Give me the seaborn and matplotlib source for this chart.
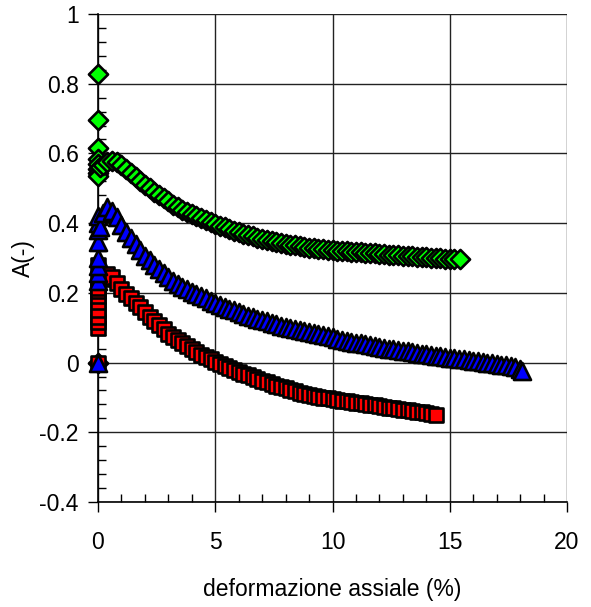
import matplotlib
matplotlib.use("Agg")
import matplotlib.pyplot as plt
from matplotlib.ticker import MultipleLocator
import seaborn as sns
import pandas as pd

# ---------------- data ----------------
green_x = [0, 0, 0, 0, 0, 0, 0, 0, 0, 0.1, 0.2,
           0.4, 0.6, 0.8, 1.0, 1.2, 1.4, 1.6, 1.8, 2.0, 2.2, 2.4, 2.6, 2.8, 3.0,
           3.2, 3.4, 3.6, 3.8, 4.0, 4.2, 4.4, 4.6, 4.8, 5.0, 5.2, 5.4, 5.6, 5.8,
           6.0, 6.2, 6.4, 6.6, 6.8, 7.0, 7.2, 7.4, 7.6, 7.8, 8.0, 8.2, 8.4, 8.6,
           8.8, 9.0, 9.2, 9.4, 9.6, 9.8, 10.0, 10.2, 10.4, 10.6, 10.8, 11.0, 11.2,
           11.4, 11.6, 11.8, 12.0, 12.2, 12.4, 12.6, 12.8, 13.0, 13.2, 13.4, 13.6,
           13.8, 14.0, 14.2, 14.4, 14.6, 14.8, 15.0, 15.2, 15.45]
green_y = [0.0, 0.829, 0.697, 0.617, 0.585, 0.57, 0.555, 0.545, 0.535, 0.56, 0.566,
           0.575, 0.578, 0.575, 0.566, 0.556, 0.545, 0.533, 0.520, 0.510, 0.500,
           0.490, 0.481, 0.472, 0.463, 0.452, 0.446, 0.439, 0.433, 0.427, 0.421,
           0.415, 0.409, 0.403, 0.398, 0.393, 0.388, 0.383, 0.378, 0.374, 0.370,
           0.366, 0.362, 0.358, 0.355, 0.352, 0.349, 0.346, 0.343, 0.340, 0.338,
           0.336, 0.334, 0.332, 0.330, 0.328, 0.327, 0.325, 0.324, 0.322, 0.321,
           0.320, 0.319, 0.318, 0.317, 0.316, 0.315, 0.314, 0.313, 0.312, 0.311,
           0.310, 0.309, 0.308, 0.307, 0.306, 0.305, 0.304, 0.303, 0.302, 0.301,
           0.300, 0.299, 0.297, 0.297, 0.296, 0.296]

blue_x = [0, 0, 0, 0, 0, 0, 0, 0, 0, 0.1, 0.2,
          0.4, 0.6, 0.8, 1.0, 1.2, 1.4, 1.6, 1.8, 2.0, 2.2, 2.4, 2.6, 2.8, 3.0,
          3.2, 3.4, 3.6, 3.8, 4.0, 4.2, 4.4, 4.6, 4.8, 5.0, 5.2, 5.4, 5.6, 5.8,
          6.0, 6.2, 6.4, 6.6, 6.8, 7.0, 7.2, 7.4, 7.6, 7.8, 8.0, 8.2, 8.4, 8.6,
          8.8, 9.0, 9.2, 9.4, 9.6, 9.8, 10.0, 10.2, 10.4, 10.6, 10.8, 11.0, 11.2,
          11.4, 11.6, 11.8, 12.0, 12.2, 12.4, 12.6, 12.8, 13.0, 13.2, 13.4, 13.6,
          13.8, 14.0, 14.2, 14.4, 14.6, 14.8, 15.0, 15.2, 15.4, 15.6, 15.8, 16.0,
          16.2, 16.4, 16.6, 16.8, 17.0, 17.2, 17.4, 17.6, 17.8, 18.0, 18.1]
blue_y = [0.0, 0.235, 0.258, 0.278, 0.30, 0.345, 0.38, 0.40, 0.42, 0.39, 0.43,
          0.445, 0.435, 0.418, 0.394, 0.376, 0.358, 0.340, 0.322, 0.307, 0.293,
          0.280, 0.268, 0.256, 0.245, 0.235, 0.226, 0.218, 0.210, 0.203, 0.197,
          0.190, 0.184, 0.178, 0.172, 0.166, 0.160, 0.155, 0.150, 0.145, 0.140,
          0.135, 0.130, 0.126, 0.122, 0.118, 0.114, 0.110, 0.106, 0.102, 0.099,
          0.096, 0.093, 0.090, 0.087, 0.084, 0.081, 0.078, 0.075, 0.072, 0.069,
          0.066, 0.063, 0.060, 0.057, 0.055, 0.052, 0.049, 0.047, 0.044, 0.042,
          0.040, 0.038, 0.036, 0.034, 0.032, 0.030, 0.028, 0.026, 0.024, 0.022,
          0.020, 0.018, 0.016, 0.014, 0.012, 0.011, 0.009, 0.007, 0.005, 0.004,
          0.002, 0.000, -0.002, -0.004, -0.006, -0.008, -0.011, -0.014, -0.018,
          -0.023]

red_x = [0, 0, 0, 0, 0, 0, 0, 0, 0, 0, 0, 0.1, 0.2,
         0.4, 0.6, 0.8, 1.0, 1.2, 1.4, 1.6, 1.8, 2.0, 2.2, 2.4, 2.6, 2.8, 3.0,
         3.2, 3.4, 3.6, 3.8, 4.0, 4.2, 4.4, 4.6, 4.8, 5.0, 5.2, 5.4, 5.6, 5.8,
         6.0, 6.2, 6.4, 6.6, 6.8, 7.0, 7.2, 7.4, 7.6, 7.8, 8.0, 8.2, 8.4, 8.6,
         8.8, 9.0, 9.2, 9.4, 9.6, 9.8, 10.0, 10.2, 10.4, 10.6, 10.8, 11.0, 11.2,
         11.4, 11.6, 11.8, 12.0, 12.2, 12.4, 12.6, 12.8, 13.0, 13.2, 13.4, 13.6,
         13.8, 14.0, 14.2, 14.4]
red_y = [0.0, 0.10, 0.115, 0.13, 0.15, 0.175, 0.19, 0.205, 0.215, 0.24, 0.28, 0.25,
         0.24, 0.255, 0.245, 0.228, 0.212, 0.198, 0.185, 0.171, 0.158, 0.145,
         0.132, 0.119, 0.107, 0.095, 0.083, 0.073, 0.064, 0.055, 0.047, 0.039,
         0.031, 0.023, 0.016, 0.009, 0.002, -0.004, -0.010, -0.016, -0.021,
         -0.027, -0.032, -0.037, -0.042, -0.047, -0.052, -0.057, -0.062, -0.066,
         -0.070, -0.074, -0.078, -0.082, -0.086, -0.090, -0.093, -0.096, -0.099,
         -0.101, -0.103, -0.105, -0.107, -0.109, -0.111, -0.113, -0.115, -0.117,
         -0.119, -0.121, -0.123, -0.125, -0.127, -0.129, -0.131, -0.133, -0.135,
         -0.137, -0.139, -0.141, -0.143, -0.145, -0.147, -0.149]

x_ticks = [0, 5, 10, 15, 20]
x_tick_labels = ["0", "5", "10", "15", "20"]
y_ticks = [-0.4, -0.2, 0, 0.2, 0.4, 0.6, 0.8, 1.0]
y_tick_labels = ["-0.4", "-0.2", "0", "0.2", "0.4", "0.6", "0.8", "1"]

# ---------------- style ----------------
sns.set_style("white")
plt.rcParams["font.family"] = ["Liberation Sans", "DejaVu Sans"]
plt.rcParams["axes.unicode_minus"] = False
plt.rcParams["text.color"] = "black"
plt.rcParams["axes.labelcolor"] = "black"
plt.rcParams["xtick.color"] = "black"
plt.rcParams["ytick.color"] = "black"
FS = 16.5

fig = plt.figure(figsize=(5.91, 6.07), dpi=100)
ax = fig.add_axes([98 / 591, 1 - 502 / 607, (567 - 98) / 591, (502 - 14) / 607])

green = pd.DataFrame({"x": green_x, "y": green_y})
blue = pd.DataFrame({"x": blue_x, "y": blue_y})
red = pd.DataFrame({"x": red_x, "y": red_y})

sns.scatterplot(data=green, x="x", y="y", ax=ax, marker="D", s=95,
                color="#00ff00", edgecolor="black", linewidth=1.9, zorder=3,
                clip_on=False)
sns.scatterplot(data=red, x="x", y="y", ax=ax, marker="s", s=115,
                color="#ff0000", edgecolor="black", linewidth=1.9, zorder=4,
                clip_on=False)
sns.scatterplot(data=blue, x="x", y="y", ax=ax, marker="^", s=150,
                color="#0000ff", edgecolor="black", linewidth=1.9, zorder=5,
                clip_on=False)

ax.set_xlim(0, 20)
ax.set_ylim(-0.4, 1.0)
ax.set_xticks(x_ticks)
ax.set_xticklabels(x_tick_labels, fontsize=FS)
ax.set_yticks(y_ticks)
ax.set_yticklabels(y_tick_labels, fontsize=FS)
ax.xaxis.set_minor_locator(MultipleLocator(1))
ax.yaxis.set_minor_locator(MultipleLocator(0.04))
ax.tick_params(axis="both", which="major", direction="out", length=7,
               width=1, color="black", bottom=True, left=True)
ax.tick_params(axis="x", which="major", pad=14)
ax.tick_params(axis="y", which="major", pad=7)
ax.tick_params(axis="both", which="minor", direction="in", length=6,
               width=1, color="black", bottom=True, left=True)

ax.grid(True, which="major", color="#222222", linewidth=1.0, zorder=0)
ax.set_axisbelow(True)
for side in ["top", "right"]:
    ax.spines[side].set_visible(False)
for side in ["left", "bottom"]:
    ax.spines[side].set_color("black")
    ax.spines[side].set_linewidth(1.2)

ax.set_xlabel("deformazione assiale (%)", fontsize=FS, labelpad=17)
ax.set_ylabel("A(-)", fontsize=FS, labelpad=3)

fig.savefig("out.png", dpi=100)
